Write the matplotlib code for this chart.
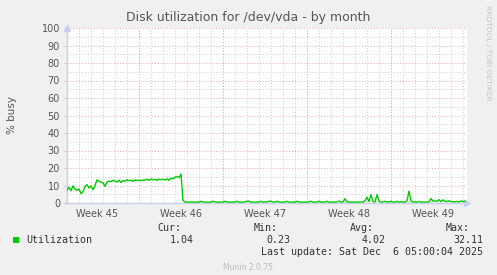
import pandas as pd
import matplotlib
matplotlib.use('Agg')
import matplotlib.pyplot as plt
import matplotlib.dates as mdates
from matplotlib.patches import Rectangle

# time window of the month graph (2 px per 4 h sample)
start = pd.Timestamp('2025-11-03 00:00')
end = pd.Timestamp('2025-12-06 08:00')

# % busy, one sample every 4 hours
busy_early = [7.4, 9.0, 7.0, 9.8, 8.0, 7.2, 8.0, 5.3, 6.5, 9.5,
              10.5, 8.5, 9.8, 7.5, 10.0, 13.2, 12.4, 12.0, 11.5, 9.5,
              12.0, 12.5, 12.2, 13.0, 12.5, 12.0, 13.0, 11.8, 12.8, 12.5,
              13.2, 12.8, 13.0, 12.4, 13.1, 12.9, 13.0, 12.8, 13.2, 13.0,
              13.6, 12.9, 13.8, 13.2, 13.5, 13.0, 13.6, 13.3, 13.6, 13.1,
              13.8, 13.0, 14.2, 13.8, 14.8, 15.2, 14.5, 16.5, 1.5, 0.6]
busy_late = [0.5, 0.5, 0.6, 0.5, 0.5, 0.5, 0.5, 1.0, 0.5, 0.5,
             0.5, 0.5, 0.5, 1.0, 0.6, 0.5, 0.5, 0.5, 0.5, 1.0,
             0.5, 0.5, 0.5, 0.5, 0.5, 1.0, 0.5, 0.5, 0.5, 0.6,
             1.0, 1.0, 0.5, 0.5, 0.5, 0.5, 0.5, 1.0, 0.5, 0.5,
             0.6, 1.0, 1.0, 0.5, 0.5, 1.0, 0.6, 0.5, 0.5, 0.5,
             1.0, 0.5, 0.5, 0.5, 0.5, 1.0, 0.5, 0.5, 0.5, 0.5,
             0.5, 0.6, 1.0, 0.5, 0.5, 0.5, 1.0, 0.5, 0.5, 0.5,
             1.0, 0.5, 0.5, 0.5, 0.5, 0.6, 1.1, 0.5, 0.6, 2.5,
             0.6, 0.5, 0.5, 0.5, 0.5, 0.5, 0.5, 0.6, 0.5, 1.2,
             3.3, 0.8, 4.8, 0.8, 0.6, 4.8, 1.0, 0.5, 0.6, 1.0,
             0.5, 0.6, 0.9, 0.5, 0.5, 1.0, 0.5, 0.8, 0.5, 0.5,
             1.2, 6.8, 1.2, 0.5, 0.6, 0.5, 0.9, 0.5, 0.6, 0.5,
             0.5, 0.6, 2.6, 1.0, 1.3, 0.8, 1.9, 0.8, 1.8, 1.0,
             0.8, 1.3, 0.8, 0.7, 0.6, 0.9, 0.6, 1.2, 0.8, 1.0]
busy = busy_early + busy_late
times = pd.date_range(start, periods=len(busy), freq='4h')

week_labels = ['Week 45', 'Week 46', 'Week 47', 'Week 48', 'Week 49']
week_label_times = pd.to_datetime(['2025-11-05 12:00', '2025-11-12 12:00', '2025-11-19 12:00',
                                   '2025-11-26 12:00', '2025-12-03 12:00'])
week_starts = pd.to_datetime(['2025-11-09', '2025-11-16', '2025-11-23', '2025-11-30'])

stat_names = ['Cur:', 'Min:', 'Avg:', 'Max:']
stat_values = ['1.04', '0.23', '4.02', '32.11']

W, H = 497, 275
fig = plt.figure(figsize=(W / 100, H / 100), dpi=100, facecolor='#f0f0f0')
ax = fig.add_axes([67 / W, 72 / H, 400 / W, 175 / H])
ax.set_facecolor('white')

ax.plot(times, busy, color='#00cc00', lw=1.0, zorder=3)
ax.set_xlim(start, end)
ax.set_ylim(0, 100)

ax.set_yticks(range(0, 101, 10))
ax.set_yticks(range(5, 100, 10), minor=True)
ax.xaxis.set_minor_locator(mdates.DayLocator())
ax.set_xticks(week_label_times)
ax.set_xticklabels(week_labels)

dots = (0, (1, 2))
ax.set_axisbelow(True)
ax.grid(which='minor', color='#cccccc', ls=dots, lw=0.7)
ax.yaxis.grid(True, which='major', color='#eaa8a8', ls=dots, lw=0.7)
ax.xaxis.grid(False, which='major')
for t in week_starts:
    ax.axvline(t, color='#eaa8a8', ls=dots, lw=0.7, zorder=1)

ax.tick_params(axis='both', which='major', labelsize=7, labelcolor='#555555')
ax.tick_params(axis='y', which='major', length=2, color='#c8c8c8', pad=3)
ax.tick_params(axis='x', which='major', length=0, pad=4)
ax.tick_params(which='minor', length=0)

for s in ['top', 'right']:
    ax.spines[s].set_visible(False)
for s in ['left', 'bottom']:
    ax.spines[s].set_color('#c8d0f0')
    ax.spines[s].set_linewidth(1.0)
ax.plot([0], [1.0], marker='^', ms=4, color='#c8d0f0', transform=ax.transAxes, clip_on=False)
ax.plot([1.0], [0], marker='>', ms=4, color='#c8d0f0', transform=ax.transAxes, clip_on=False)

fig.text(0.5, 1 - 18 / H, 'Disk utilization for /dev/vda - by month', ha='center', va='center',
         fontsize=9, color='#555555')
fig.text(12 / W, 1 - 115 / H, '% busy', rotation=90, ha='center', va='center',
         fontsize=7.5, color='#555555')
fig.text(488 / W, 1 - 53 / H, 'RRDTOOL / TOBI OETIKER', rotation=270, ha='center', va='center',
         fontsize=5.4, color='#c4c4c4')

mono = dict(family='DejaVu Sans Mono', fontsize=7.2, color='#333333', va='center')
fig.patches.append(Rectangle((13 / W, 1 - 243 / H), 6 / W, 6 / H, transform=fig.transFigure,
                             facecolor='#00cc00', edgecolor='none'))
fig.text(26 / W, 1 - 240 / H, 'Utilization', ha='left', **mono)
head_right = [181, 278, 374, 470]
val_right = [194, 290, 386, 483]
for name, val, hx, vx in zip(stat_names, stat_values, head_right, val_right):
    fig.text(hx / W, 1 - 228 / H, name, ha='right', **mono)
    fig.text(vx / W, 1 - 240 / H, val, ha='right', **mono)
fig.text(483 / W, 1 - 252 / H, 'Last update: Sat Dec  6 05:00:04 2025', ha='right', **mono)
fig.text(248 / W, 1 - 267 / H, 'Munin 2.0.75', ha='center', va='center', fontsize=5.5, color='#bbbbbb')

fig.savefig('out.png', dpi=100, facecolor=fig.get_facecolor())
